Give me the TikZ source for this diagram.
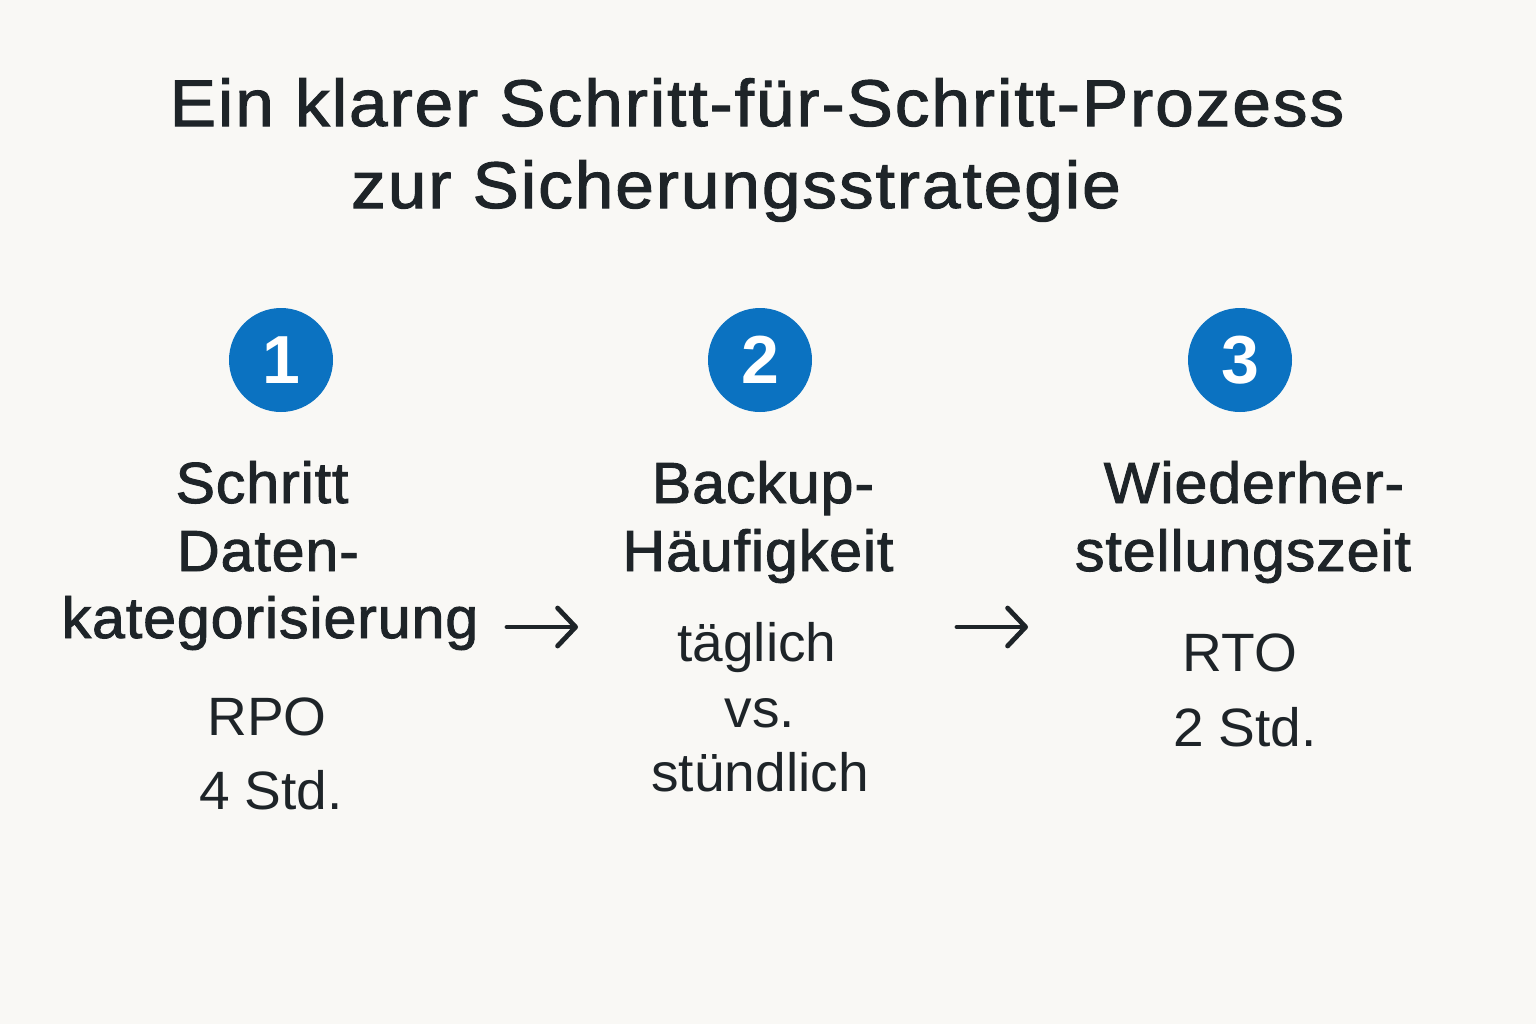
\documentclass[tikz,border=0pt]{standalone}
\usepackage{fontspec}
\setmainfont{Liberation Sans}
\newfontfamily\titlefont[FakeBold=1.6,FakeStretch=1.05,LetterSpace=3]{Liberation Sans}
\newfontfamily\medfont[FakeBold=1.6,FakeStretch=1.02,LetterSpace=1.5]{Liberation Sans}
\newfontfamily\subfont[FakeStretch=1.02]{Liberation Sans}
\newfontfamily\numfont{Liberation Sans}
\usetikzlibrary{arrows.meta}
\definecolor{bg}{HTML}{F9F8F5}
\definecolor{ink}{HTML}{1E2428}
\definecolor{badge}{HTML}{0B72C1}
\begin{document}
\begin{tikzpicture}[x=0.5pt,y=-0.5pt,
  title/.style={font=\titlefont\fontsize{33}{38}\selectfont,text=ink,anchor=base,inner sep=0pt},
  head/.style={font=\medfont\fontsize{29}{34}\selectfont,text=ink,anchor=base,inner sep=0pt},
  sub/.style={font=\subfont\fontsize{27}{32}\selectfont,text=ink,anchor=base,inner sep=0pt},
  badgecirc/.style={circle,fill=badge,minimum size=52pt,inner sep=0pt,text=white,font=\numfont\bfseries\fontsize{34}{36}\selectfont},
  flow/.style={draw=ink,line width=2.4pt,line cap=round,-{Straight Barb[length=9pt,width=19pt,line cap=round,line join=round]}}]
\fill[bg] (0,0) rectangle (1536,1024);
\useasboundingbox (0,0) rectangle (1536,1024);
% title
\node[title] (t1) at (757,126) {Ein klarer Schritt-für-Schritt-Prozess};
\node[title] (t2) at (736,208) {zur Sicherungsstrategie};
% badges
\node[badgecirc] (b1) at (281,360) {1};
\node[badgecirc] (b2) at (760,360) {2};
\node[badgecirc] (b3) at (1240,360) {3};
% column 1
\node[head] (c1a) at (262,503) {Schritt};
\node[head] (c1b) at (268,571) {Daten-};
\node[head] (c1c) at (270,638) {kategorisierung};
\node[sub] (c1d) at (267,735) {RPO};
\node[sub] (c1e) at (271,809) {4 Std.};
% column 2
\node[head] (c2a) at (763,503) {Backup-};
\node[head] (c2b) at (758,571) {Häufigkeit};
\node[sub] (c2c) at (757,661) {täglich};
\node[sub] (c2d) at (760,727) {vs.};
\node[sub] (c2e) at (760,791) {stündlich};
% column 3
\node[head] (c3a) at (1254,503) {Wiederher-};
\node[head] (c3b) at (1243,571) {stellungszeit};
\node[sub] (c3c) at (1240,671) {RTO};
\node[sub] (c3d) at (1245,746) {2 Std.};
% arrows
\coordinate (a1s) at (507,627);
\coordinate (a1e) at (578,627);
\coordinate (a2s) at (957,627);
\coordinate (a2e) at (1028,627);
\draw[flow] (a1s) -- (a1e);
\draw[flow] (a2s) -- (a2e);
\end{tikzpicture}
\end{document}
